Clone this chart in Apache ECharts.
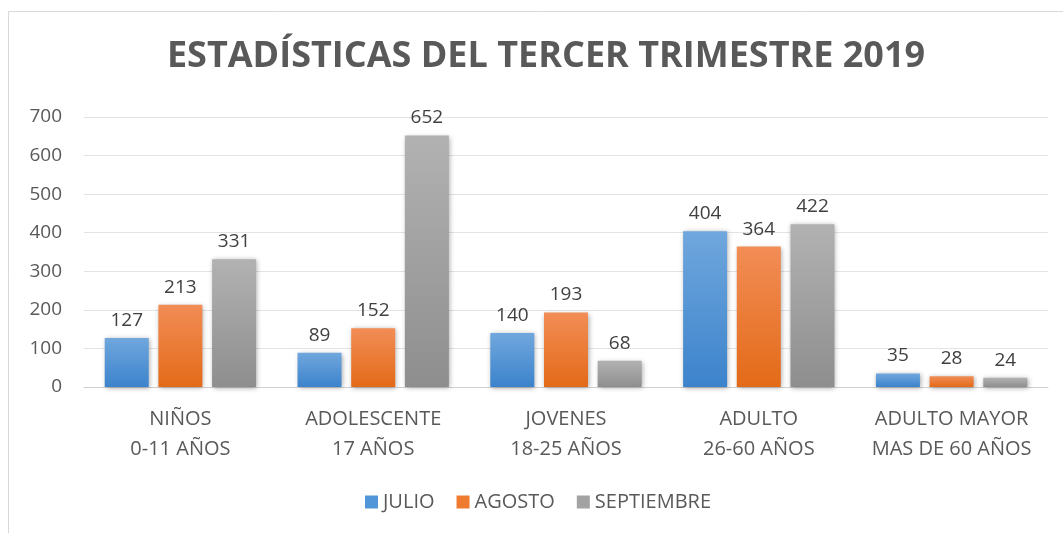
<!DOCTYPE html>
<html>
<head>
<meta charset="utf-8">
<script src="https://cdn.jsdelivr.net/npm/echarts@6/dist/echarts.min.js"></script>
<style>
  html, body { margin: 0; padding: 0; background: #fff; }
  #chart { width: 1063px; height: 533px; }
</style>
</head>
<body>
<div id="chart"></div>
<script>
const categories = ['NIÑOS\n0-11 AÑOS', 'ADOLESCENTE\n17 AÑOS', 'JOVENES\n18-25 AÑOS', 'ADULTO\n26-60 AÑOS', 'ADULTO MAYOR\nMAS DE 60 AÑOS'];
const julio = [127, 89, 140, 404, 35];
const agosto = [213, 152, 193, 364, 28];
const septiembre = [331, 652, 68, 422, 24];

const font = 'Open Sans';

function grad(top, bottom) {
    return new echarts.graphic.LinearGradient(0, 0, 0, 1, [
        { offset: 0, color: top },
        { offset: 1, color: bottom },
    ]);
}

function bar(name, data, top, bottom, legendColor) {
    return {
        name,
        type: 'bar',
        data,
        barWidth: 44,
        barGap: '22%',
        itemStyle: {
            color: grad(top, bottom),
            shadowColor: 'rgba(0,0,0,0.35)',
            shadowBlur: 5,
            shadowOffsetX: 1,
            shadowOffsetY: 1,
        },
        label: {
            show: true,
            position: 'top',
            distance: 8,
            color: '#404040',
            fontSize: 19,
            fontFamily: font,
        },
        legendColor,
    };
}

const chart = echarts.init(document.getElementById('chart'));
const series = [
    bar('JULIO', julio, '#70a7dd', '#3c83cc', '#5096d8'),
    bar('AGOSTO', agosto, '#f28d56', '#e36a18', '#ee7b30'),
    bar('SEPTIEMBRE', septiembre, '#b2b2b2', '#8e8e8e', '#a3a3a3'),
];
chart.setOption({
    animation: false,
    graphic: [{
        type: 'rect',
        shape: { x: 8.5, y: 11.5, width: 1200, height: 700 },
        style: { fill: 'none', stroke: '#d9d9d9', lineWidth: 1 },
        z: -1,
    }],
    title: {
        text: 'ESTADÍSTICAS DEL TERCER TRIMESTRE 2019',
        left: 541,
        top: 34,
        textAlign: 'center',
        textStyle: { color: '#595959', fontSize: 36, fontWeight: 'bold', fontFamily: font },
    },
    legend: {
        bottom: 16,
        left: 360,
        itemWidth: 13,
        itemHeight: 13,
        itemGap: 22,
        icon: 'rect',
        textStyle: { color: '#595959', fontSize: 20, fontFamily: font, padding: [0, 0, 0, 0] },
        data: series.map(s => ({ name: s.name, itemStyle: { color: s.legendColor } })),
    },
    grid: { left: 84, right: 15, top: 117, bottom: 146 },
    xAxis: {
        type: 'category',
        data: categories,
        axisLine: { lineStyle: { color: '#d0d0d0', width: 1 } },
        axisTick: { show: false },
        axisLabel: { interval: 0, color: '#595959', fontSize: 20, fontFamily: font, margin: 17, lineHeight: 30 },
    },
    yAxis: {
        type: 'value',
        min: 0,
        max: 700,
        interval: 100,
        axisLine: { show: false },
        axisTick: { show: false },
        splitLine: { lineStyle: { color: '#e3e3e3', width: 1 } },
        axisLabel: { color: '#595959', fontSize: 19, fontFamily: font, margin: 22 },
    },
    series: series.map(({ legendColor, ...s }) => s),
});
</script>
</body>
</html>
